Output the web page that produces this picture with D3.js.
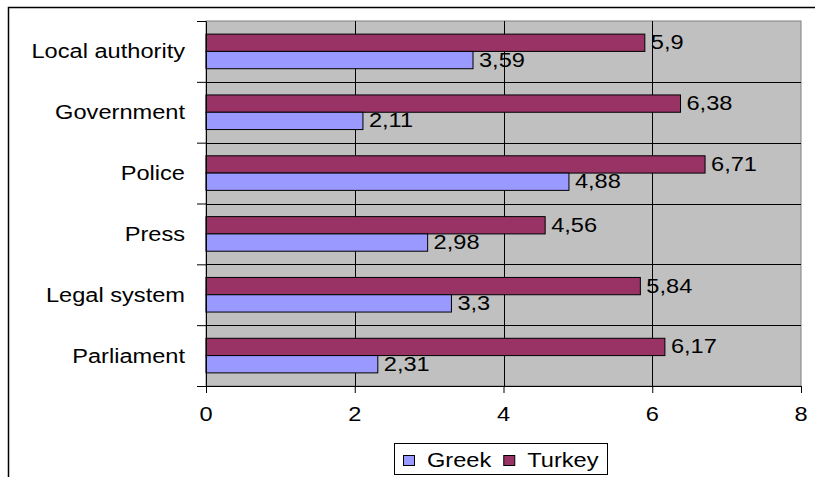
<!DOCTYPE html>
<html>
<head>
<meta charset="utf-8">
<script src="https://cdn.jsdelivr.net/npm/d3@7"></script>
<style>
  body { margin: 0; background: #fff; }
  svg text { font-family: "Liberation Sans", Arial, sans-serif; font-size: 20px; fill: #000; }
</style>
</head>
<body>
<svg id="chart" width="815" height="477"></svg>
<script>
// chart data
var categories = ['Local authority', 'Government', 'Police', 'Press', 'Legal system', 'Parliament'];
var greek = [3.59, 2.11, 4.88, 2.98, 3.3, 2.31];
var turkey = [5.9, 6.38, 6.71, 4.56, 5.84, 6.17];
var seriesNames = ['Greek', 'Turkey'];
var xTicks = [0, 2, 4, 6, 8];

var colors = {Greek: '#9999ff', Turkey: '#993366'};
var plot = {left: 206, right: 801, top: 21, bottom: 386};
var stretchX = 1.18; // text in the picture is wider than normal

var svg = d3.select('svg#chart');

// widen a text selection horizontally
function stretch(sel) {
  sel.each(function() {
    var w = this.getComputedTextLength();
    this.setAttribute('textLength', w * stretchX);
    this.setAttribute('lengthAdjust', 'spacingAndGlyphs');
  });
}

var xScale = d3.scaleLinear().domain([0, 8]).range([plot.left, plot.right]);
var yBand = d3.scaleBand().domain(categories).range([plot.top, plot.bottom]);
var yEdge = d3.scaleLinear().domain([0, categories.length]).range([plot.top, plot.bottom]);
var barH = 17.3;
var inner = d3.scaleBand().domain(['Turkey', 'Greek'])
  .range([(yBand.bandwidth() - 2 * barH) / 2, (yBand.bandwidth() + 2 * barH) / 2]);

// outer frame (cut off at right and bottom)
svg.append('path')
  .attr('d', 'M8.5,' + 477 + 'V7.5H815')
  .attr('fill', 'none').attr('stroke', '#000').attr('stroke-width', 1.5);

// plot area
svg.append('rect')
  .attr('x', plot.left).attr('y', plot.top)
  .attr('width', plot.right - plot.left).attr('height', plot.bottom - plot.top)
  .attr('fill', '#c0c0c0').attr('stroke', '#808080').attr('stroke-width', 1);

// vertical gridlines
svg.append('g').selectAll('line')
  .data(xTicks.filter(function(d) { return d > 0 && d < 8; }))
  .join('line')
  .attr('x1', function(d) { return Math.round(xScale(d)) + 0.5; })
  .attr('x2', function(d) { return Math.round(xScale(d)) + 0.5; })
  .attr('y1', plot.top).attr('y2', plot.bottom)
  .attr('stroke', '#000');

// horizontal lines between categories
svg.append('g').selectAll('line')
  .data(d3.range(1, categories.length))
  .join('line')
  .attr('x1', plot.left).attr('x2', plot.right)
  .attr('y1', function(d) { return Math.round(yEdge(d)) + 0.5; })
  .attr('y2', function(d) { return Math.round(yEdge(d)) + 0.5; })
  .attr('stroke', '#000');

// bars
var rows = categories.map(function(c, i) {
  return {cat: c, values: [{name: 'Turkey', v: turkey[i]}, {name: 'Greek', v: greek[i]}]};
});

var groups = svg.append('g').selectAll('g')
  .data(rows)
  .join('g')
  .attr('transform', function(d) { return 'translate(0,' + yBand(d.cat) + ')'; });

groups.selectAll('rect')
  .data(function(d) { return d.values; })
  .join('rect')
  .attr('x', xScale(0))
  .attr('y', function(d) { return inner(d.name); })
  .attr('width', function(d) { return xScale(d.v) - xScale(0); })
  .attr('height', inner.bandwidth())
  .attr('fill', function(d) { return colors[d.name]; })
  .attr('stroke', '#000').attr('stroke-width', 1);

groups.selectAll('text')
  .data(function(d) { return d.values; })
  .join('text')
  .attr('x', function(d) { return xScale(d.v) + 6; })
  .attr('y', function(d) { return inner(d.name) + inner.bandwidth() / 2 + 6.5; })
  .text(function(d) { return String(d.v).replace('.', ','); })
  .call(stretch);

// value axis
var xAxis = d3.axisBottom(xScale).tickValues(xTicks).tickSize(7).tickSizeOuter(0).tickFormat('');
svg.append('g')
  .attr('transform', 'translate(0,' + plot.bottom + ')')
  .call(xAxis)
  .call(function(g) { g.selectAll('path, line').attr('stroke', '#000'); });

svg.append('g').selectAll('text')
  .data(xTicks)
  .join('text')
  .attr('x', function(d) { return xScale(d); })
  .attr('y', 421)
  .attr('text-anchor', 'middle')
  .text(function(d) { return d; })
  .call(stretch);

// category axis
var yAxis = d3.axisLeft(yEdge).tickValues(d3.range(categories.length + 1)).tickSize(9).tickSizeOuter(0).tickFormat('');
svg.append('g')
  .attr('transform', 'translate(' + plot.left + ',0)')
  .call(yAxis)
  .call(function(g) { g.selectAll('path, line').attr('stroke', '#000'); });

svg.append('g').selectAll('text')
  .data(categories)
  .join('text')
  .attr('x', 185)
  .attr('y', function(d) { return yBand(d) + yBand.bandwidth() / 2 + 7; })
  .attr('text-anchor', 'end')
  .text(function(d) { return d; })
  .call(stretch);

// legend
var legend = svg.append('g');
legend.append('rect')
  .attr('x', 394.5).attr('y', 443.5).attr('width', 213).attr('height', 31)
  .attr('fill', '#fff').attr('stroke', '#000');

var lx = 403;
seriesNames.forEach(function(name) {
  legend.append('rect')
    .attr('x', lx + 0.5).attr('y', 455.5).attr('width', 11).attr('height', 10)
    .attr('fill', colors[name]).attr('stroke', '#000');
  var t = legend.append('text')
    .attr('x', lx + 24).attr('y', 467)
    .text(name)
    .call(stretch);
  // textLength is already set, so this is the stretched width
  lx = lx + 24 + t.node().getComputedTextLength() + 12;
});
</script>
</body>
</html>
